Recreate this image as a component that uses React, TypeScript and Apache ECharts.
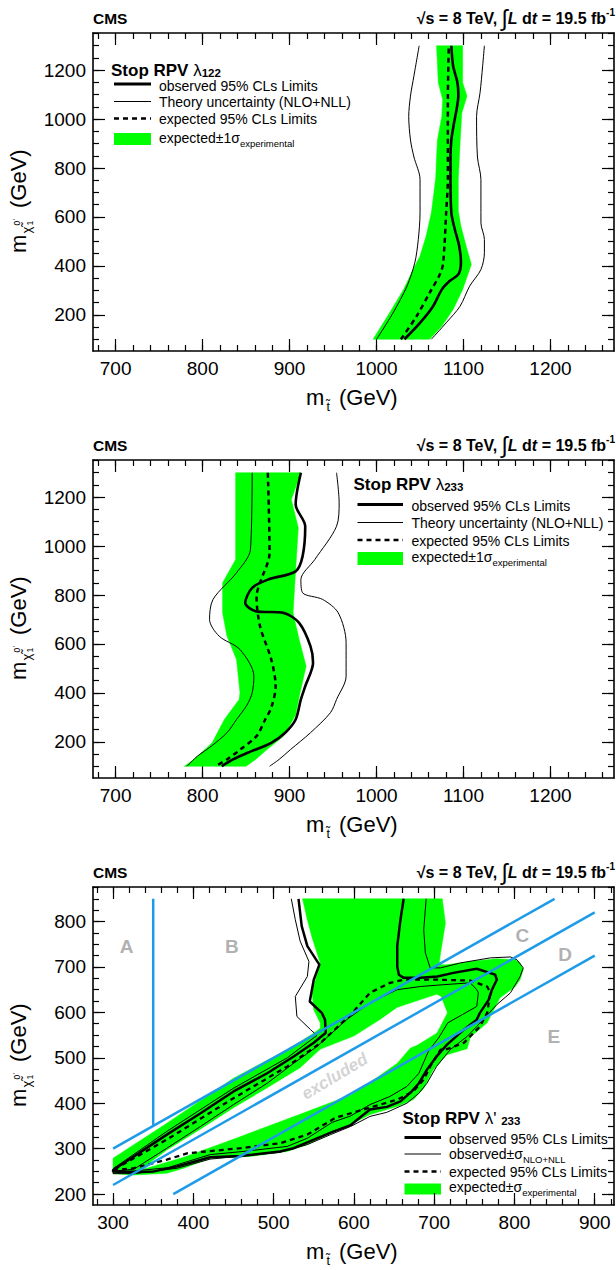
import React, { useEffect, useRef } from "react";
import * as echarts from "echarts";

const FONT = "'Liberation Sans', Arial, Helvetica, sans-serif";
const GREEN = "#00ff00";
const BLUE = "#1e9be8";
const GREY = "#9c9c9c";

function steps(a: number, b: number, s: number): number[] {
  const out: number[] = [];
  for (let v = a; v <= b + 1e-9; v += s) out.push(v);
  return out;
}

// ---------- axes ----------
const p12XRange = [674, 1273];
const p12YRange = [52, 1352];
const p3XRange = [275, 924];
const p3YRange = [176, 876];
const p12XLabels = [700, 800, 900, 1000, 1100, 1200];
const p12YLabels = [200, 400, 600, 800, 1000, 1200];
const p3XLabels = [300, 400, 500, 600, 700, 800, 900];
const p3YLabels = [200, 300, 400, 500, 600, 700, 800];
const p12XMinor = steps(680, 1260, 20);
const p12YMinor = steps(100, 1350, 50);
const p3XMinor = steps(280, 920, 20);
const p3YMinor = steps(200, 875, 25);

// ---------- panel 1 : Stop RPV lambda_122 ----------
const p1GreenLow = [[996,100],[1015,208],[1031,303],[1042,385],[1050,440],[1057,522],[1063,617],[1066,700],[1068,760],[1069,845],[1070,915],[1075,1011],[1076,1080],[1071,1149],[1069,1300]];
const p1GreenHigh = [[1099,1300],[1099,1149],[1104,1094],[1098,1025],[1096,900],[1094,753],[1094,624],[1097,562],[1103,481],[1109,406],[1099,303],[1088,222],[1075,153],[1061,100]];
const p1Observed = [[1032,100],[1050,167],[1065,235],[1075,303],[1084,338],[1094,365],[1097,413],[1095,481],[1090,549],[1086,617],[1085,753],[1085,845],[1086,915],[1089,983],[1092,1039],[1094,1094],[1093,1149],[1088,1218],[1086,1300]];
const p1Expected = [[1028,100],[1046,194],[1061,290],[1075,385],[1078,481],[1080,617],[1082,753],[1082,1080],[1083,1300]];
const p1TheoryLow = [[1000,100],[1019,208],[1035,317],[1044,413],[1048,508],[1050,617],[1050,753],[1043,845],[1039,915],[1037,1011],[1039,1094],[1043,1177],[1049,1300]];
const p1TheoryHigh = [[1063,100],[1080,167],[1096,235],[1107,317],[1120,385],[1124,454],[1124,508],[1120,576],[1120,753],[1116,845],[1115,1011],[1119,1108],[1122,1218],[1124,1300]];

// ---------- panel 2 : Stop RPV lambda_233 ----------
const p2GreenLow = [[779,100],[790,128],[811,196],[825,291],[842,373],[843,400],[839,536],[828,632],[823,727],[823,850],[838,945],[838,1300]];
const p2GreenHigh = [[913,1300],[902,1190],[910,1075],[907,904],[904,727],[911,618],[919,509],[912,400],[907,310],[893,223],[874,168],[861,128],[850,100]];
const p2Observed = [[913,1300],[907,1170],[918,1081],[915,959],[907,897],[875,863],[857,829],[849,768],[861,734],[893,727],[911,686],[924,591],[927,523],[918,427],[913,373],[907,291],[895,237],[879,196],[852,155],[835,128],[822,100]];
const p2Expected = [[875,1300],[877,972],[866,850],[862,795],[866,673],[879,536],[884,427],[879,340],[872,291],[862,223],[843,168],[828,128],[815,100]];
const p2TheoryLow = [[857,1300],[855,986],[839,891],[812,782],[808,700],[819,632],[843,577],[859,468],[857,400],[851,350],[839,291],[828,237],[810,182],[794,141],[782,100]];
const p2TheoryHigh = [[954,1300],[957,1177],[954,1081],[929,945],[913,863],[915,809],[938,782],[956,727],[965,605],[965,468],[954,373],[947,319],[924,237],[901,168],[888,128],[877,100]];

// ---------- panel 3 : Stop RPV lambda'_233 ----------
const p3GreenOuter = [[536,850],[542,804],[548,764],[558,709],[552,672],[548,643],[550,606],[558,577],[558,565],[550,554],[517,518],[450,455],[367,356],[300,279],[300,245],[326,242],[367,246],[388,257],[421,279],[471,283],[517,294],[542,309],[571,334],[596,353],[620,375],[654,393],[674,408],[687,433],[699,474],[716,507],[741,520],[745,545],[766,577],[782,632],[801,657],[807,672],[811,694],[807,709],[801,716],[778,718],[745,712],[716,705],[706,705],[708,731],[714,797],[710,850]];
const p3GreenInner = [[336,255],[367,296],[409,342],[450,389],[492,433],[533,477],[558,518],[600,547],[633,584],[654,610],[703,639],[708,635],[716,599],[703,555],[679,529],[670,522],[654,489],[612,437],[596,419],[533,377],[450,322],[388,282]];
const p3Observed = [[531,850],[535,790],[542,746],[557,705],[550,672],[545,624],[560,599],[564,584],[565,555],[550,533],[525,503],[492,466],[450,426],[409,378],[367,331],[326,283],[300,253],[300,250],[324,248],[351,250],[380,261],[421,281],[459,284],[508,294],[525,301],[542,314],[575,338],[596,352],[620,386],[641,392],[658,404],[672,426],[681,444],[691,474],[703,503],[716,529],[737,562],[753,584],[757,599],[768,628],[772,650],[778,672],[776,683],[753,696],[724,687],[704,679],[683,676],[662,676],[656,683],[654,701],[654,746],[658,804],[662,850]];
const p3Expected = [[300,252],[326,257],[367,276],[393,290],[459,301],[508,312],[542,331],[577,368],[604,382],[625,393],[654,408],[674,426],[687,452],[695,481],[708,518],[716,519],[737,533],[757,569],[766,599],[770,643],[766,657],[745,670],[705,672],[662,672],[645,665],[620,643],[596,595],[558,532],[517,481],[450,411],[367,320],[300,253]];
const p3TheoryOuter = [[522,850],[527,804],[533,757],[544,712],[542,679],[527,635],[529,591],[546,562],[554,549],[550,544],[517,500],[450,433],[367,338],[301,257],[300,245],[326,245],[380,257],[421,277],[508,292],[542,309],[571,331],[596,349],[620,371],[641,380],[666,400],[681,422],[691,444],[703,481],[720,518],[741,547],[753,569],[778,617],[795,643],[807,679],[811,698],[803,716],[795,722],[770,720],[733,709],[708,698],[695,698],[689,731],[687,782],[690,850]];
const p3TheoryInner = [[300,250],[326,255],[367,301],[409,349],[450,397],[492,444],[525,488],[554,525],[591,584],[620,621],[654,650],[683,657],[712,661],[745,665],[753,650],[755,643],[753,613],[735,595],[717,577],[706,545],[693,515],[681,466],[666,437],[645,415],[620,397],[596,372],[573,358],[542,323],[517,305],[463,294],[421,287],[368,258],[326,251],[300,250]];
const p3BlueLines = [
  [[350, 350], [350, 850]],
  [[300, 300], [850, 850]],
  [[300, 220], [900, 820]],
  [[375, 200], [900, 725]],
];
const p3RegionLabels: [number, number, string][] = [[317,745,"A"],[448,745,"B"],[810,769,"C"],[863,727,"D"],[849,547,"E"]];
const p3ExcludedLabel = [576, 459];

const PANEL_TOPS = [33, 460, 887];
const GRID_LEFT = 93;
const GRID_W = 521;
const GRID_H = 318;

function axisSet(kind: "x" | "y", grid: number, range: number[], majors: number[], minors: number[]) {
  const posA = kind === "x" ? "bottom" : "left";
  const posB = kind === "x" ? "top" : "right";
  const base = {
    type: "value", gridIndex: grid, min: range[0], max: range[1],
    splitLine: { show: false }, minorTick: { show: false }, minorSplitLine: { show: false },
  };
  const line = { show: true, onZero: false, lineStyle: { color: "#000", width: 1.6 } };
  const tick = (vals: number[], len: number) => ({
    show: true, inside: true, length: len, customValues: vals,
    lineStyle: { color: "#000", width: 1.2 },
  });
  return [
    {
      ...base, position: posA, axisLine: line, axisTick: tick(majors, 12),
      axisLabel: {
        show: true, customValues: majors, margin: kind === "x" ? 8 : 7, fontSize: 19,
        color: "#000", fontFamily: FONT, formatter: (v: number) => String(Math.round(v)),
      },
    },
    { ...base, position: posA, axisLine: { show: false }, axisTick: tick(minors, 6), axisLabel: { show: false } },
    { ...base, position: posB, axisLine: line, axisTick: tick(majors, 12), axisLabel: { show: false } },
    { ...base, position: posB, axisLine: { show: false }, axisTick: tick(minors, 6), axisLabel: { show: false } },
  ];
}

function lineS(k: number, data: number[][], width: number, dashed = false, smooth: number | boolean = false, color = "#000", z = 5) {
  return {
    type: "line", xAxisIndex: 4 * k, yAxisIndex: 4 * k, data, symbol: "none", showSymbol: false,
    smooth, silent: true, z, animation: false,
    lineStyle: { color, width, type: dashed ? [5, 4] : "solid", cap: "butt" },
  };
}

function polyS(k: number, pts: number[][], fill: string, z: number) {
  return {
    type: "custom", xAxisIndex: 4 * k, yAxisIndex: 4 * k, z, silent: true, data: pts,
    renderItem: (params: any, api: any) => {
      if (params.dataIndex !== 0) return null;
      return {
        type: "polygon",
        shape: { points: pts.map((p) => api.coord(p)) },
        style: { fill, stroke: fill, lineWidth: 0.5 },
      };
    },
  };
}

const txt = (x: number, y: number, text: string, fontSize: number, extra: any = {}) => ({
  type: "text", x, y, silent: true,
  style: { text, fontSize, fontFamily: FONT, fill: "#000", verticalAlign: "middle", align: "left", ...extra },
});

function header(top: number) {
  return [
    txt(93, top - 15, "CMS", 15.5, { fontWeight: "bold" }),
    {
      type: "text", x: 615, y: top - 15, silent: true,
      style: {
        text: "{a|√s = 8 TeV, }{i|∫}{bi|L}{a| d}{bi|t}{a| = 19.5 fb}{sup|-1}",
        align: "right", verticalAlign: "middle", fontFamily: FONT, fill: "#000",
        rich: {
          a: { fontSize: 16, fontWeight: "bold", fontFamily: FONT, fill: "#000", lineHeight: 22 },
          i: { fontSize: 23, fontFamily: FONT, fill: "#000", lineHeight: 22 },
          bi: { fontSize: 16, fontWeight: "bold", fontStyle: "italic", fontFamily: FONT, fill: "#000", lineHeight: 22 },
          sup: { fontSize: 10, fontWeight: "bold", fontFamily: FONT, fill: "#000", verticalAlign: "top", lineHeight: 14 },
        },
      },
    },
  ];
}

function xTitle(top: number) {
  return [
    txt(306, top + 364, "m", 22),
    txt(326.5, top + 374, "t̃", 12.5),
    txt(339, top + 364, "(GeV)", 22),
  ];
}

function yTitle(top: number) {
  const t = (x: number, y: number, s: string, fs: number) => ({
    type: "text", x, y, silent: true,
    style: { text: s, fontSize: fs, fontFamily: FONT, fill: "#000", verticalAlign: "middle", align: "left" },
  });
  return {
    type: "group", x: 18, y: top + 220, rotation: Math.PI / 2, silent: true,
    children: [
      t(0, 0, "m", 22),
      t(19.5, 8, "χ̃", 13),
      t(27.5, 12, "1", 8.5),
      t(27.5, -1.5, "0", 8.5),
      t(32.5, -3, "'", 8),
      t(45, 0, "(GeV)", 22),
    ],
  };
}

const legLine = (x1: number, x2: number, y: number, w: number, dash?: number[]) => ({
  type: "line", silent: true, shape: { x1, y1: y, x2, y2: y },
  style: { stroke: "#000", lineWidth: w, lineDash: dash || null },
});
const legBox = (x1: number, x2: number, y1: number, y2: number) => ({
  type: "rect", silent: true, shape: { x: x1, y: y1, width: x2 - x1, height: y2 - y1 },
  style: { fill: GREEN },
});
const richLabel = (x: number, y: number, main: string, sub: string) => ({
  type: "text", x, y, silent: true,
  style: {
    text: `{n|${main}}{s|${sub}}`, verticalAlign: "middle", align: "left", fontFamily: FONT, fill: "#000",
    rich: {
      n: { fontSize: 14, fontFamily: FONT, fill: "#000", lineHeight: 20 },
      s: { fontSize: 9.5, fontFamily: FONT, fill: "#000", lineHeight: 10, verticalAlign: "bottom" },
    },
  },
});
const legTitle = (x: number, y: number, lam: string, sub: string) => ({
  type: "text", x, y, silent: true,
  style: {
    text: `{b|Stop RPV }{l|${lam}}{s|${sub}}`, verticalAlign: "middle", align: "left", fontFamily: FONT, fill: "#000",
    rich: {
      b: { fontSize: 17, fontWeight: "bold", fontFamily: FONT, fill: "#000", lineHeight: 18 },
      l: { fontSize: 17, fontFamily: FONT, fill: "#000", lineHeight: 18 },
      s: { fontSize: 11.5, fontWeight: "bold", fontFamily: FONT, fill: "#000", lineHeight: 9, verticalAlign: "bottom" },
    },
  },
});

function buildOption() {
  const xAxis: any[] = [];
  const yAxis: any[] = [];
  const cfg = [
    [p12XRange, p12YRange, p12XLabels, p12YLabels, p12XMinor, p12YMinor],
    [p12XRange, p12YRange, p12XLabels, p12YLabels, p12XMinor, p12YMinor],
    [p3XRange, p3YRange, p3XLabels, p3YLabels, p3XMinor, p3YMinor],
  ];
  cfg.forEach((c, k) => {
    xAxis.push(...axisSet("x", k, c[0], c[2], c[4]));
    yAxis.push(...axisSet("y", k, c[1], c[3], c[5]));
  });

  const series: any[] = [
    polyS(0, [...p1GreenLow, ...p1GreenHigh], GREEN, 1),
    lineS(0, p1TheoryLow, 1, false, 0.3),
    lineS(0, p1TheoryHigh, 1, false, 0.3),
    lineS(0, p1Expected, 2.5, true, 0.3),
    lineS(0, p1Observed, 2.6, false, 0.3),

    polyS(1, [...p2GreenLow, ...p2GreenHigh], GREEN, 1),
    lineS(1, p2TheoryLow, 1, false, 0.3),
    lineS(1, p2TheoryHigh, 1, false, 0.3),
    lineS(1, p2Expected, 2.5, true, 0.3),
    lineS(1, p2Observed, 2.6, false, 0.3),

    polyS(2, p3GreenOuter, GREEN, 1),
    polyS(2, p3GreenInner, "#ffffff", 2),
    lineS(2, p3TheoryOuter, 1),
    lineS(2, p3TheoryInner, 1),
    lineS(2, p3Expected, 2.3, true),
    lineS(2, p3Observed, 2.5),
    ...p3BlueLines.map((d) => lineS(2, d, 2.5, false, false, BLUE, 6)),
    {
      type: "scatter", xAxisIndex: 8, yAxisIndex: 8, z: 7, silent: true, symbolSize: 1,
      itemStyle: { color: "rgba(0,0,0,0)" },
      data: p3RegionLabels.map(([x, y, n]) => ({ value: [x, y], name: n })),
      label: { show: true, position: "inside", formatter: "{b}", color: GREY, fontSize: 19, fontWeight: "bold", fontFamily: FONT },
    },
    {
      type: "scatter", xAxisIndex: 8, yAxisIndex: 8, z: 7, silent: true, symbolSize: 1,
      itemStyle: { color: "rgba(0,0,0,0)" },
      data: [{ value: p3ExcludedLabel, name: "excluded" }],
      label: { show: true, position: "inside", formatter: "{b}", rotate: 31, color: "#c8c8c8", fontSize: 17, fontWeight: "bold", fontStyle: "italic", fontFamily: FONT },
    },
  ];

  const graphic: any[] = [];
  PANEL_TOPS.forEach((top) => {
    graphic.push(...header(top), ...xTitle(top), yTitle(top));
  });

  // legend panel 1
  graphic.push(
    legTitle(111, 70, "λ", "122"),
    legLine(114, 151, 84, 2.8),
    txt(159, 85.5, "observed 95% CLs Limits", 14),
    legLine(114, 151, 101.5, 1),
    txt(159, 102, "Theory uncertainty (NLO+NLL)", 14),
    legLine(114, 151, 118.5, 2.5, [5, 4]),
    txt(159, 119, "expected 95% CLs Limits", 14),
    legBox(114, 151, 133, 145),
    richLabel(159, 138, "expected±1σ", "experimental"),
  );
  // legend panel 2
  graphic.push(
    legTitle(353.5, 484, "λ", "233"),
    legLine(357.5, 403, 504.5, 2.8),
    txt(411.5, 505.5, "observed 95% CLs Limits", 14),
    legLine(357.5, 403, 522.5, 1),
    txt(411.5, 523, "Theory uncertainty (NLO+NLL)", 14),
    legLine(357.5, 403, 540, 2.5, [5, 4]),
    txt(411.5, 540.5, "expected 95% CLs Limits", 14),
    legBox(357.5, 403, 552, 565),
    richLabel(411.5, 557, "expected±1σ", "experimental"),
  );
  // legend panel 3
  graphic.push(
    legTitle(402.5, 1118, "λ' ", "233"),
    legLine(404.5, 441, 1137.5, 2.8),
    txt(449, 1138.5, "observed 95% CLs Limits", 14),
    legLine(404.5, 441, 1154, 1),
    richLabel(449, 1154, "observed±σ", "NLO+NLL"),
    legLine(404.5, 441, 1171.5, 2.5, [5, 4]),
    txt(449, 1171.5, "expected 95% CLs Limits", 14),
    legBox(404.5, 441, 1183.5, 1194.5),
    richLabel(449, 1187, "expected±σ", "experimental"),
  );

  return {
    animation: false,
    backgroundColor: "#ffffff",
    textStyle: { fontFamily: FONT },
    grid: PANEL_TOPS.map((top) => ({ left: GRID_LEFT, top, width: GRID_W, height: GRID_H, containLabel: false })),
    xAxis,
    yAxis,
    series,
    graphic,
  };
}

export default function App() {
  const ref = useRef<HTMLDivElement>(null);
  useEffect(() => {
    if (!ref.current) return;
    const chart = echarts.init(ref.current, undefined, { renderer: "svg" });
    chart.setOption(buildOption() as any);
    return () => chart.dispose();
  }, []);
  return (
    <div
      ref={ref}
      style={{ position: "absolute", left: 0, top: 0, width: 616, height: 1270, background: "#fff" }}
    />
  );
}
